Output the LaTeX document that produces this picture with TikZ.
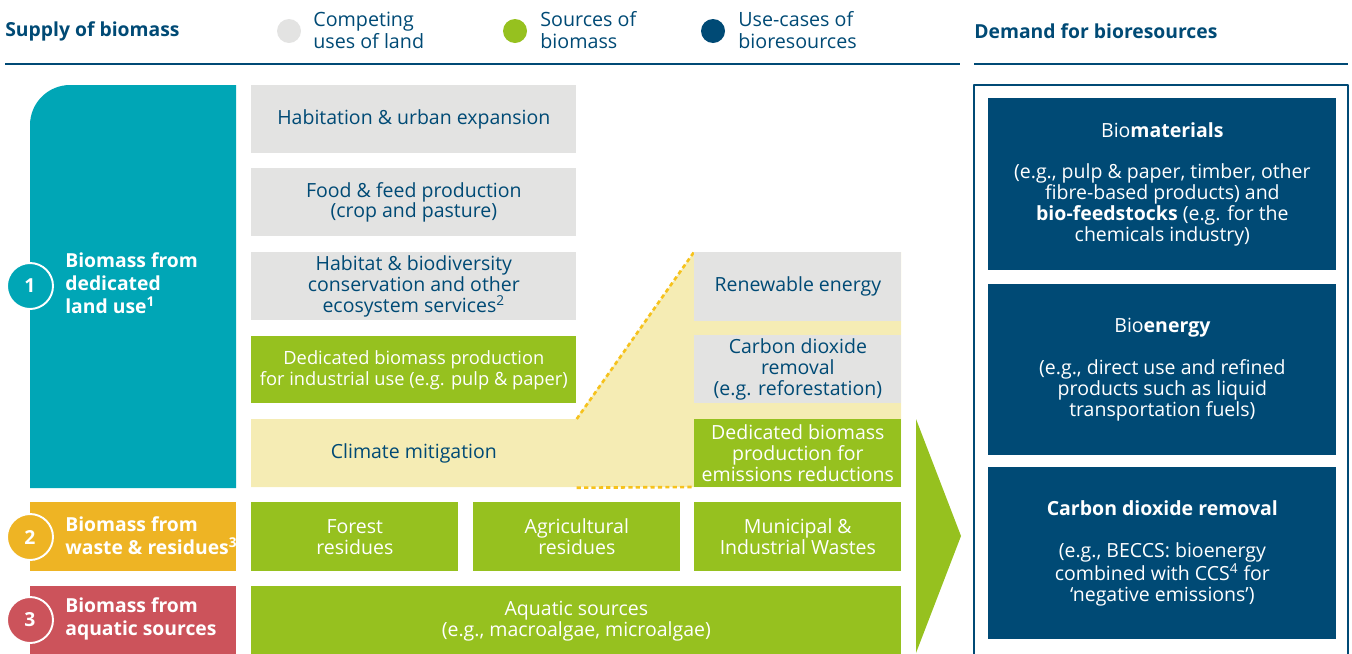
\documentclass[tikz,border=0pt]{standalone}
\usepackage{fontspec}
\setmainfont{Open Sans}
\usetikzlibrary{positioning}
\definecolor{bionavy}{HTML}{004A75}
\definecolor{bioteal}{HTML}{00A6B6}
\definecolor{biogray}{HTML}{E3E3E2}
\definecolor{biogreen}{HTML}{96C11F}
\definecolor{bioyellow}{HTML}{F5ECB4}
\definecolor{bioorange}{HTML}{EEB424}
\definecolor{biored}{HTML}{CC535B}
\definecolor{biodot}{HTML}{F6C21C}
\tikzset{
  wh/.style 2 args={minimum width=#1*0.02cm, minimum height=#2*0.02cm},
  head/.style={anchor=west, inner sep=0pt, text=bionavy, font=\bfseries\fontsize{11}{13}\selectfont},
  legdot/.style={circle, inner sep=0pt, minimum size=24*0.02cm},
  legtxt/.style={anchor=west, align=left, inner sep=0pt, text=bionavy, font=\fontsize{11.2}{12.5}\selectfont},
  cell/.style={anchor=north west, inner sep=0pt, align=center},
  greycell/.style={cell, fill=biogray, text=bionavy},
  greencell/.style={cell, fill=biogreen, text=white},
  usecase/.style={cell, fill=bionavy, text=white},
  numdot/.style={circle, draw=white, line width=1.1pt, minimum size=46*0.02cm, inner sep=0pt,
    text=white, font=\bfseries\fontsize{11}{13}\selectfont},
  sourcetxt/.style={anchor=west, align=left, inner sep=0pt, text=white, font=\bfseries\fontsize{11}{13}\selectfont},
  dotline/.style={biodot, line width=1.5pt, dash pattern=on 2.4pt off 1.8pt}
}
\begin{document}
\begin{tikzpicture}[x=0.02cm, y=-0.02cm, font=\fontsize{11.1}{11.9}\selectfont, line join=round]
\useasboundingbox (0,0) rectangle (1352,653);
% headers and legend
\node[head] (supply) at (5,31) {Supply of biomass};
\node[head] (demand) at (974,31) {Demand for bioresources};
\node[legdot, fill=biogray] (dotland) at (289,31) {};
\node[legtxt] (legland) at (313,30) {Competing\\uses of land};
\node[legdot, fill=biogreen] (dotsrc) at (515,31) {};
\node[legtxt] (legsrc) at (540,30) {Sources of\\biomass};
\node[legdot, fill=bionavy] (dotuse) at (713,31) {};
\node[legtxt] (leguse) at (738,30) {Use-cases of\\bioresources};
\draw[bionavy, line width=0.8pt] (5,64) -- (960,64);
\draw[bionavy, line width=0.8pt] (974,64) -- (1348,64);

% supply column
\fill[bioteal] (30,488) -- (30,125) .. controls (30,103) and (48,85) .. (70,85) -- (236,85) -- (236,488) -- cycle;
\fill[bioorange] (30,502) rectangle (236,571);
\fill[biored] (30,586) rectangle (236,660);
\node[numdot, fill=bioteal] (one) at (30,286) {1};
\node[numdot, fill=bioorange] (two) at (30,537) {2};
\node[numdot, fill=biored] (three) at (30,620) {3};
\node[sourcetxt] (landuse) at (65,283) {Biomass from\\dedicated\\land use\textsuperscript{1}};
\node[sourcetxt] (residue) at (65,536) {Biomass from\\waste \& residues\textsuperscript{3}};
\node[sourcetxt] (aquatic) at (65,619) {Biomass from\\aquatic sources};

% competing uses and sources
\node[greycell, wh={325}{68}] (urban) at (251,85) {Habitation \& urban expansion};
\node[greycell, wh={325}{68}] (food) at (251,168) {Food \& feed production\\(crop and pasture)};
\node[greycell, wh={325}{68}] (habitat) at (251,252) {Habitat \& biodiversity\\conservation and other\\ecosystem services\textsuperscript{2}};
\node[greencell, wh={325}{67}, font=\fontsize{10.4}{11.9}\selectfont] (industrial) at (251,336) {Dedicated biomass production\\for industrial use (e.g. pulp \& paper)};
\fill[bioyellow] (251,419) -- (576,419) -- (694,252) -- (901,252) -- (901,487) -- (251,487) -- cycle;
\node[cell, wh={325}{68}, text=bionavy] (climate) at (251,419) {Climate mitigation};
\draw[dotline] (climate.north east) -- (694,252);
\draw[dotline] (climate.south east) -- (694,487);
\node[greycell, wh={207}{69}] (renew) at (694,252) {Renewable energy};
\node[greycell, wh={207}{68}] (cdr) at (694,335) {Carbon dioxide\\removal\\(e.g. reforestation)};
\node[greencell, wh={207}{68}] (emission) at (694,419) {Dedicated biomass\\production for\\emissions reductions};
\node[greencell, wh={207}{69}] (forest) at (251,502) {Forest\\residues};
\node[greencell, wh={207}{69}] (agri) at (473,502) {Agricultural\\residues};
\node[greencell, wh={207}{69}] (waste) at (694,502) {Municipal \&\\Industrial Wastes};
\node[greencell, wh={650}{70}] (algae) at (251,586) {Aquatic sources\\(e.g., macroalgae, microalgae)};

% arrow to demand
\fill[biogreen] (916,419) -- (961,536) -- (916,653) -- cycle;

% demand column
\draw[bionavy, line width=1.1pt] (974,85) rectangle (1348,670);
\node[usecase, wh={348}{172}] (material) at (988,98) {Bio\textbf{materials}\\[11.9pt](e.g., pulp \& paper, timber, other\\fibre-based products) and\\\textbf{bio-feedstocks} (e.g. for the\\chemicals industry)};
\node[usecase, wh={348}{171}] (energy) at (988,284) {Bio\textbf{energy}\\[11.9pt](e.g., direct use and refined\\products such as liquid\\transportation fuels)};
\node[usecase, wh={348}{172}] (removal) at (988,467) {\textbf{Carbon dioxide removal}\\[11.9pt](e.g., BECCS: bioenergy\\combined with CCS\textsuperscript{4} for\\‘negative emissions’)};
\end{tikzpicture}
\end{document}
